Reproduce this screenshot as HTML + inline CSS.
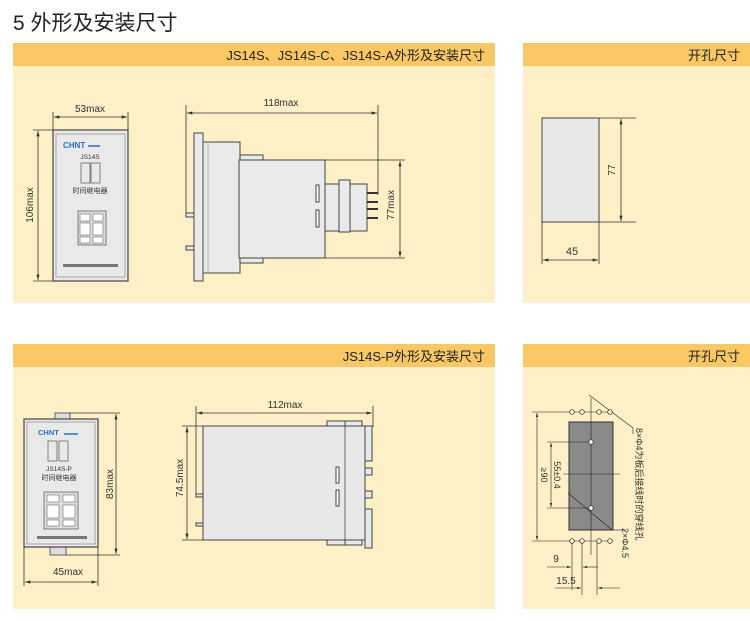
<!DOCTYPE html>
<html><head><meta charset="utf-8"><style>
body{margin:0;background:#fff;width:750px;height:621px;overflow:hidden;font-family:"Liberation Sans","Noto Sans CJK SC",sans-serif}
svg{position:absolute;left:0;top:0}
</style></head><body>
<svg width="750" height="621" viewBox="0 0 750 621" xmlns="http://www.w3.org/2000/svg" font-family="Liberation Sans, Noto Sans CJK SC, sans-serif">
<defs>
<marker id="a" viewBox="0 0 10 6" refX="10" refY="3" markerWidth="8" markerHeight="4" orient="auto-start-reverse"><path d="M0,0L10,3L0,6z" fill="#333"/></marker>
</defs>
<text x="13" y="30" font-size="21" fill="#222">5 外形及安装尺寸</text>
<rect x="13" y="43" width="482" height="260" fill="#fdefc6"/>
<rect x="13" y="43" width="482" height="23" fill="#f9c865"/>
<text x="485" y="60" font-size="13" text-anchor="end" fill="#222">JS14S、JS14S-C、JS14S-A外形及安装尺寸</text>
<rect x="523" y="43" width="227" height="260" fill="#fdefc6"/>
<rect x="523" y="43" width="227" height="23" fill="#f9c865"/>
<text x="740" y="60" font-size="13" text-anchor="end" fill="#222">开孔尺寸</text>
<rect x="13" y="344" width="482" height="265" fill="#fdefc6"/>
<rect x="13" y="344" width="482" height="23" fill="#f9c865"/>
<text x="485" y="361" font-size="13" text-anchor="end" fill="#222">JS14S-P外形及安装尺寸</text>
<rect x="523" y="344" width="227" height="265" fill="#fdefc6"/>
<rect x="523" y="344" width="227" height="23" fill="#f9c865"/>
<text x="740" y="361" font-size="13" text-anchor="end" fill="#222">开孔尺寸</text>

<g stroke="#333" stroke-width="0.8" fill="none">
<line x1="53" y1="112" x2="53" y2="130"/><line x1="128" y1="112" x2="128" y2="130"/>
<line x1="54" y1="117" x2="127" y2="117" marker-start="url(#a)" marker-end="url(#a)"/>
<line x1="33" y1="130" x2="53" y2="130"/><line x1="33" y1="281" x2="53" y2="281"/>
<line x1="38" y1="131" x2="38" y2="280" marker-start="url(#a)" marker-end="url(#a)"/>
</g>
<rect x="53" y="130" width="75" height="151" fill="#e9e9e9" stroke="#444" stroke-width="1.2"/>
<rect x="56" y="134" width="69" height="143" fill="none" stroke="#888" stroke-width="0.7"/>
<text x="63" y="148" font-size="8" font-weight="bold" fill="#2a6fc0">CHNT</text>
<line x1="88" y1="146" x2="100" y2="146" stroke="#2a6fc0" stroke-width="1.5"/>
<text x="90" y="159" font-size="6.5" text-anchor="middle" fill="#333">JS14S</text>
<rect x="81" y="163" width="9" height="20" fill="none" stroke="#555" stroke-width="0.7"/>
<rect x="91" y="163" width="9" height="20" fill="none" stroke="#555" stroke-width="0.7"/>
<text x="90" y="193" font-size="7" text-anchor="middle" fill="#333">时间继电器</text>
<rect x="78" y="211" width="28" height="34" fill="#ddd" stroke="#555" stroke-width="0.7"/>
<rect x="80" y="214" width="10" height="7" fill="#fff" stroke="#555" stroke-width="0.5"/><rect x="93" y="214" width="10" height="7" fill="#fff" stroke="#555" stroke-width="0.5"/>
<rect x="80" y="223" width="10" height="12" fill="#fff" stroke="#555" stroke-width="0.5"/><rect x="93" y="223" width="10" height="12" fill="#fff" stroke="#555" stroke-width="0.5"/>
<rect x="80" y="237" width="10" height="6" fill="#fff" stroke="#555" stroke-width="0.5"/><rect x="93" y="237" width="10" height="6" fill="#fff" stroke="#555" stroke-width="0.5"/>
<rect x="63" y="264" width="55" height="3" fill="#777"/>
<text x="90" y="112" font-size="10" text-anchor="middle" fill="#333">53max</text>
<text transform="translate(33,205) rotate(-90)" font-size="10" text-anchor="middle" fill="#333">106max</text>

<g stroke="#333" stroke-width="0.8" fill="none">
<line x1="186" y1="105" x2="186" y2="215"/><line x1="378" y1="105" x2="378" y2="195"/>
<line x1="187" y1="113" x2="377" y2="113" marker-start="url(#a)" marker-end="url(#a)"/>
<line x1="325" y1="160" x2="405" y2="160"/><line x1="325" y1="258" x2="405" y2="258"/>
<line x1="400" y1="161" x2="400" y2="257" marker-start="url(#a)" marker-end="url(#a)"/>
</g>
<text x="281" y="106" font-size="10" text-anchor="middle" fill="#333">118max</text>
<text transform="translate(394,205) rotate(-90)" font-size="10" text-anchor="middle" fill="#333">77max</text>
<g stroke="#444" stroke-width="1" fill="#eaeaea">
<rect x="186" y="213" width="8" height="4"/><rect x="186" y="246" width="8" height="4"/>
<rect x="240" y="155" width="23" height="5"/><rect x="240" y="258" width="23" height="5"/>
<rect x="194" y="133" width="9" height="148"/>
<rect x="203" y="142" width="37" height="131"/>
<rect x="239" y="160" width="86" height="98"/>
<rect x="325" y="184" width="42" height="47"/>
<rect x="339" y="180" width="11" height="52"/>
<rect x="316" y="185" width="3" height="17" fill="#fff"/><rect x="316" y="210" width="3" height="17" fill="#fff"/>
</g>
<g stroke="#333" stroke-width="2">
<line x1="367" y1="193" x2="378" y2="193"/><line x1="367" y1="202" x2="378" y2="202"/><line x1="367" y1="209" x2="378" y2="209"/><line x1="367" y1="218" x2="378" y2="218"/>
</g>
<line x1="208" y1="143" x2="208" y2="272" stroke="#999" stroke-width="0.7"/>

<rect x="542" y="118" width="57" height="104" fill="#e8e8e8" stroke="#444" stroke-width="1"/>
<g stroke="#333" stroke-width="0.8" fill="none">
<line x1="599" y1="118" x2="636" y2="118"/><line x1="599" y1="222" x2="636" y2="222"/>
<line x1="621" y1="119" x2="621" y2="221" marker-start="url(#a)" marker-end="url(#a)"/>
<line x1="542" y1="222" x2="542" y2="264"/><line x1="599" y1="222" x2="599" y2="264"/>
<line x1="543" y1="260" x2="598" y2="260" marker-start="url(#a)" marker-end="url(#a)"/>
</g>
<text transform="translate(615,170) rotate(-90)" font-size="10" text-anchor="middle" fill="#333">77</text>
<text x="572" y="255" font-size="11" text-anchor="middle" fill="#333">45</text>

<rect x="55" y="413" width="15" height="6" fill="#ddd" stroke="#444" stroke-width="0.8"/>
<rect x="50" y="547" width="16" height="8" fill="#ddd" stroke="#444" stroke-width="0.8"/>
<rect x="24" y="419" width="74" height="128" fill="#e9e9e9" stroke="#444" stroke-width="1.2"/>
<rect x="27" y="422" width="68" height="122" fill="none" stroke="#888" stroke-width="0.7"/>
<text x="38" y="435" font-size="7.5" font-weight="bold" fill="#2a6fc0">CHNT</text>
<line x1="64" y1="434" x2="78" y2="434" stroke="#2a6fc0" stroke-width="1.5"/>
<rect x="48" y="441" width="9" height="20" fill="none" stroke="#555" stroke-width="0.7"/>
<rect x="59" y="441" width="9" height="20" fill="none" stroke="#555" stroke-width="0.7"/>
<text x="59" y="471" font-size="6.5" text-anchor="middle" fill="#333">JS14S-P</text>
<text x="59" y="480" font-size="7" text-anchor="middle" fill="#333">时间继电器</text>
<rect x="44" y="492" width="34" height="37" fill="#ddd" stroke="#555" stroke-width="0.7"/>
<rect x="47" y="495" width="12" height="7" fill="#fff" stroke="#555" stroke-width="0.5"/><rect x="63" y="495" width="12" height="7" fill="#fff" stroke="#555" stroke-width="0.5"/>
<rect x="47" y="505" width="12" height="13" fill="#fff" stroke="#555" stroke-width="0.5"/><rect x="63" y="505" width="12" height="13" fill="#fff" stroke="#555" stroke-width="0.5"/>
<rect x="47" y="520" width="12" height="6" fill="#fff" stroke="#555" stroke-width="0.5"/><rect x="63" y="520" width="12" height="6" fill="#fff" stroke="#555" stroke-width="0.5"/>
<rect x="37" y="536" width="50" height="3" fill="#777"/>
<g stroke="#333" stroke-width="0.8" fill="none">
<line x1="70" y1="413" x2="120" y2="413"/><line x1="66" y1="555" x2="120" y2="555"/>
<line x1="116" y1="414" x2="116" y2="554" marker-start="url(#a)" marker-end="url(#a)"/>
<line x1="24" y1="547" x2="24" y2="586"/><line x1="98" y1="547" x2="98" y2="586"/>
<line x1="25" y1="582" x2="97" y2="582" marker-start="url(#a)" marker-end="url(#a)"/>
</g>
<text transform="translate(113,484) rotate(-90)" font-size="10" text-anchor="middle" fill="#333">83max</text>
<text x="68" y="575" font-size="10" text-anchor="middle" fill="#333">45max</text>

<g stroke="#333" stroke-width="0.8" fill="none">
<line x1="196" y1="406" x2="196" y2="497"/><line x1="373" y1="406" x2="373" y2="427"/>
<line x1="197" y1="413" x2="372" y2="413" marker-start="url(#a)" marker-end="url(#a)"/>
<line x1="182" y1="426" x2="203" y2="426"/><line x1="182" y1="540" x2="203" y2="540"/>
<line x1="187" y1="427" x2="187" y2="539" marker-start="url(#a)" marker-end="url(#a)"/>
</g>
<text x="285" y="408" font-size="10" text-anchor="middle" fill="#333">112max</text>
<text transform="translate(183,478) rotate(-90)" font-size="10" text-anchor="middle" fill="#333">74.5max</text>
<g stroke="#444" stroke-width="1" fill="#e8e8e8">
<rect x="196" y="494" width="7" height="3"/><rect x="196" y="523" width="7" height="3"/>
<rect x="327" y="421" width="18" height="5"/><rect x="345" y="421" width="17" height="5"/>
<rect x="327" y="540" width="18" height="5"/><rect x="345" y="540" width="17" height="5"/>
<rect x="203" y="426" width="162" height="114"/>
<rect x="365" y="426" width="7" height="35"/><rect x="365" y="468" width="7" height="7"/><rect x="365" y="491" width="7" height="7"/><rect x="365" y="509" width="7" height="39"/>
<rect x="336" y="467" width="3" height="16" fill="#fff"/><rect x="336" y="490" width="3" height="16" fill="#fff"/>
</g>
<line x1="345" y1="426" x2="345" y2="540" stroke="#444" stroke-width="0.8"/>

<rect x="569" y="422" width="44" height="108" fill="#8a8a8a" stroke="#333" stroke-width="1"/>
<g stroke="#222" stroke-width="0.6" fill="none">
<line x1="591" y1="398" x2="591" y2="555"/>
<line x1="563" y1="474" x2="620" y2="474"/>
<line x1="532" y1="412" x2="612" y2="412"/><line x1="532" y1="541" x2="612" y2="541"/>
<line x1="537" y1="413" x2="537" y2="540" marker-start="url(#a)" marker-end="url(#a)"/>
<line x1="547" y1="442" x2="591" y2="442"/><line x1="547" y1="508" x2="591" y2="508"/>
<line x1="551" y1="443" x2="551" y2="507" marker-start="url(#a)" marker-end="url(#a)"/>
<line x1="589" y1="395" x2="633" y2="428"/><line x1="633" y1="428" x2="633" y2="434"/>
<line x1="568" y1="493" x2="612" y2="530"/><line x1="612" y1="530" x2="626" y2="530"/>
<line x1="572" y1="541" x2="572" y2="590"/><line x1="582" y1="541" x2="582" y2="595"/><line x1="597" y1="541" x2="597" y2="595"/>
<line x1="547" y1="567" x2="571" y2="567" marker-end="url(#a)"/><line x1="598" y1="567" x2="583" y2="567" marker-end="url(#a)"/>
<line x1="555" y1="588" x2="581" y2="588" marker-end="url(#a)"/><line x1="620" y1="588" x2="598" y2="588" marker-end="url(#a)"/>
</g>
<g fill="#fdefc6" stroke="#222" stroke-width="0.7">
<circle cx="572" cy="412" r="2.3"/><circle cx="582" cy="412" r="2.3"/><circle cx="599" cy="412" r="2.3"/><circle cx="610" cy="412" r="2.3"/>
<circle cx="572" cy="541" r="2.3"/><circle cx="582" cy="541" r="2.3"/><circle cx="599" cy="541" r="2.3"/><circle cx="610" cy="541" r="2.3"/>
<circle cx="591" cy="442" r="2.3"/><circle cx="591" cy="508" r="2.3"/>
</g>
<text transform="translate(554,475) rotate(90)" font-size="9" text-anchor="middle" fill="#333">55±0.4</text>
<text transform="translate(541,475) rotate(90)" font-size="9" text-anchor="middle" fill="#333">≥90</text>
<text transform="translate(636,428) rotate(90)" font-size="9" fill="#333">8×Φ4为板后接线时的穿线孔</text>
<text transform="translate(622,528) rotate(90)" font-size="9" fill="#333">2×Φ4.5</text>
<text x="556" y="562" font-size="10" text-anchor="middle" fill="#333">9</text>
<text x="566" y="584" font-size="10" text-anchor="middle" fill="#333">15.5</text>
</svg>
</body></html>
